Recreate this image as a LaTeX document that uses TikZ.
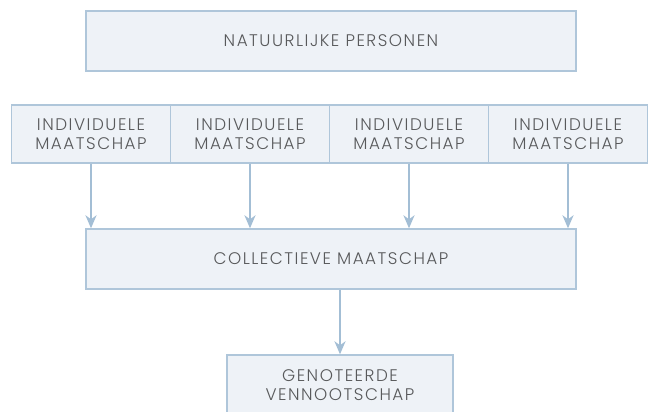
\documentclass[tikz,border=0pt]{standalone}
\usepackage{fontspec}
\setmainfont{Poppins}[UprightFont=* Light, LetterSpace=9]
\usetikzlibrary{arrows.meta}
\definecolor{boxfill}{HTML}{EEF2F7}
\definecolor{boxline}{HTML}{AFC6DA}
\definecolor{arrowcol}{HTML}{A3BED5}
\definecolor{txt}{HTML}{58595B}
\begin{document}
\begin{tikzpicture}[x=1pt,y=-1pt,
  box/.style={draw=boxline, fill=boxfill, line width=1.4pt, rectangle,
    inner sep=0pt, align=center, text=txt,
    font=\fontsize{16.8}{18.5}\selectfont},
  flow/.style={draw=arrowcol, line width=2pt,
    -{Stealth[length=13pt,width=11pt,inset=4pt]}}]
\useasboundingbox (0,0) rectangle (654,412);
\node[box, minimum width=490pt, minimum height=60pt] (np) at (331,41) {NATUURLIJKE PERSONEN};
\foreach \i/\x in {1/91,2/250,3/409,4/568}{
  \node[box, minimum width=159pt, minimum height=58pt] (im\i) at (\x,134) {INDIVIDUELE\\MAATSCHAP};
}
\node[box, minimum width=490pt, minimum height=60pt] (cm) at (331,259) {COLLECTIEVE MAATSCHAP};
\node[box, minimum width=226pt, minimum height=60pt] (gv) at (340,385) {GENOTEERDE\\VENNOOTSCHAP};
\foreach \i in {1,...,4}{
  \draw[flow] (im\i.south) -- (im\i.south |- cm.north);
}
\draw[flow] (gv.north |- cm.south) -- (gv.north);
\end{tikzpicture}
\end{document}
